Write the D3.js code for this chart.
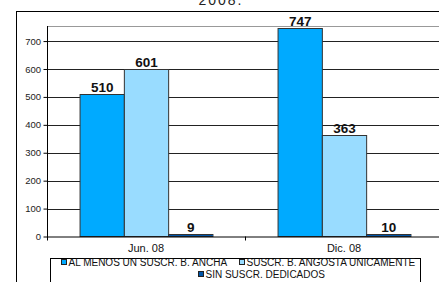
<!DOCTYPE html>
<html>
<head>
<meta charset="utf-8">
<script src="https://cdn.jsdelivr.net/npm/d3@7"></script>
<style>
  body { margin: 0; background: #fff; }
  svg { display: block; font-family: "Liberation Sans", Arial, sans-serif; }
</style>
</head>
<body>
<svg class="chart"></svg>
<script>
var categories = ['Jun. 08', 'Dic. 08'];
var seriesNames = ['AL MENOS UN SUSCR. B. ANCHA', 'SUSCR. B. ANGOSTA UNICAMENTE', 'SIN SUSCR. DEDICADOS'];
var anchaValues = [510, 747];
var angostaValues = [601, 363];
var sinValues = [9, 10];
var yTicks = [0, 100, 200, 300, 400, 500, 600, 700];
var seriesColors = ['#00aaff', '#99dcff', '#0055a8'];

var W = 439, H = 282;
var svg = d3.select('svg.chart').attr('width', W).attr('height', H);

var plot = { left: 47, right: 443, top: 26, bottom: 236.5 };

// outer chart frame, runs off the right and bottom edges
svg.append('rect')
  .attr('x', 16.5).attr('y', 11.5)
  .attr('width', 460).attr('height', 300)
  .attr('fill', '#fff').attr('stroke', '#000').attr('stroke-width', 1);

// title, mostly cut off at the top
svg.append('text')
  .attr('x', 221).attr('y', 5)
  .attr('text-anchor', 'middle')
  .attr('font-size', 14)
  .attr('letter-spacing', 2)
  .attr('fill', '#222')
  .text('2008.');

var x = d3.scaleBand().domain(categories).range([plot.left, plot.right]);
var xSub = d3.scaleBand().domain(d3.range(seriesNames.length))
  .range([0, x.bandwidth()]).paddingOuter(0.735);
var y = d3.scaleLinear().domain([0, 754]).range([plot.bottom, plot.top]);

// plot area top border
svg.append('line')
  .attr('x1', plot.left).attr('x2', plot.right)
  .attr('y1', plot.top + 0.5).attr('y2', plot.top + 0.5)
  .attr('stroke', '#999');

// gridlines
svg.append('g').selectAll('line')
  .data(yTicks.filter(function (d) { return d > 0; }))
  .join('line')
  .attr('x1', plot.left).attr('x2', plot.right)
  .attr('y1', function (d) { return Math.round(y(d)) + 0.5; })
  .attr('y2', function (d) { return Math.round(y(d)) + 0.5; })
  .attr('stroke', '#222');

// y axis
var yAxis = svg.append('g')
  .attr('transform', 'translate(' + (plot.left + 0.5) + ',0)')
  .call(d3.axisLeft(y).tickValues(yTicks).tickSize(4).tickSizeOuter(0));
yAxis.select('.domain').attr('stroke', '#000')
  .attr('d', 'M0,' + plot.top + 'V' + (plot.bottom + 0.5));
yAxis.selectAll('.tick line').attr('stroke', '#000');
yAxis.selectAll('.tick text')
  .attr('font-size', 9.5).attr('fill', '#222').attr('x', -6.5)
  .attr('font-family', '"Liberation Sans", Arial, sans-serif');

var rows = seriesNames.map(function (name, i) {
  var vals = [anchaValues, angostaValues, sinValues][i];
  return categories.map(function (c, j) { return { cat: c, s: i, v: vals[j] }; });
});
var flat = d3.merge(rows);

// bars
svg.append('g').selectAll('rect')
  .data(flat)
  .join('rect')
  .attr('x', function (d) { return x(d.cat) + xSub(d.s) + 0.5; })
  .attr('y', function (d) { return Math.round(y(d.v)) + 0.5; })
  .attr('width', xSub.bandwidth())
  .attr('height', function (d) { return plot.bottom - Math.round(y(d.v)) - 0.5; })
  .attr('fill', function (d) { return seriesColors[d.s]; })
  .attr('stroke', '#333').attr('stroke-width', 1);

// value labels
svg.append('g').selectAll('text')
  .data(flat)
  .join('text')
  .attr('x', function (d) { return x(d.cat) + xSub(d.s) + xSub.bandwidth() / 2 + 0.5; })
  .attr('y', function (d) { return y(d.v) - 2; })
  .attr('text-anchor', 'middle')
  .attr('font-size', 13.5).attr('font-weight', 'bold').attr('fill', '#111')
  .text(function (d) { return d.v; });

// x axis
var xAxis = svg.append('g')
  .attr('transform', 'translate(0,' + (plot.bottom + 0.5) + ')')
  .call(d3.axisBottom(x).tickSize(0));
xAxis.select('.domain').attr('stroke', '#000')
  .attr('d', 'M' + plot.left + ',0H' + plot.right);
xAxis.selectAll('.tick text')
  .attr('font-size', 11).attr('fill', '#111').attr('dy', '0.71em').attr('y', 7)
  .attr('font-family', '"Liberation Sans", Arial, sans-serif');
// category separator ticks
svg.append('g').selectAll('line')
  .data(categories)
  .join('line')
  .attr('x1', function (d) { return Math.round(x(d)) + 0.5; })
  .attr('x2', function (d) { return Math.round(x(d)) + 0.5; })
  .attr('y1', plot.bottom).attr('y2', plot.bottom + 4)
  .attr('stroke', '#000');

// legend
var legend = svg.append('g');
legend.append('rect')
  .attr('x', 50.5).attr('y', 258.5)
  .attr('width', 370).attr('height', 40)
  .attr('fill', '#fff').attr('stroke', '#000');
var legendPos = [{ x: 61, y: 262 }, { x: 239, y: 262 }, { x: 198, y: 274 }];
var items = legend.selectAll('g.item')
  .data(seriesNames)
  .join('g')
  .attr('class', 'item')
  .attr('transform', function (d, i) { return 'translate(' + legendPos[i].x + ',' + legendPos[i].y + ')'; });
items.append('rect')
  .attr('x', 0.5).attr('y', -2.5)
  .attr('width', 5).attr('height', 5)
  .attr('fill', function (d, i) { return seriesColors[i]; })
  .attr('stroke', '#222');
items.append('text')
  .attr('x', 7.5).attr('y', 0).attr('dy', '0.35em')
  .attr('font-size', 10).attr('fill', '#111')
  .text(function (d) { return d; });
</script>
</body>
</html>
